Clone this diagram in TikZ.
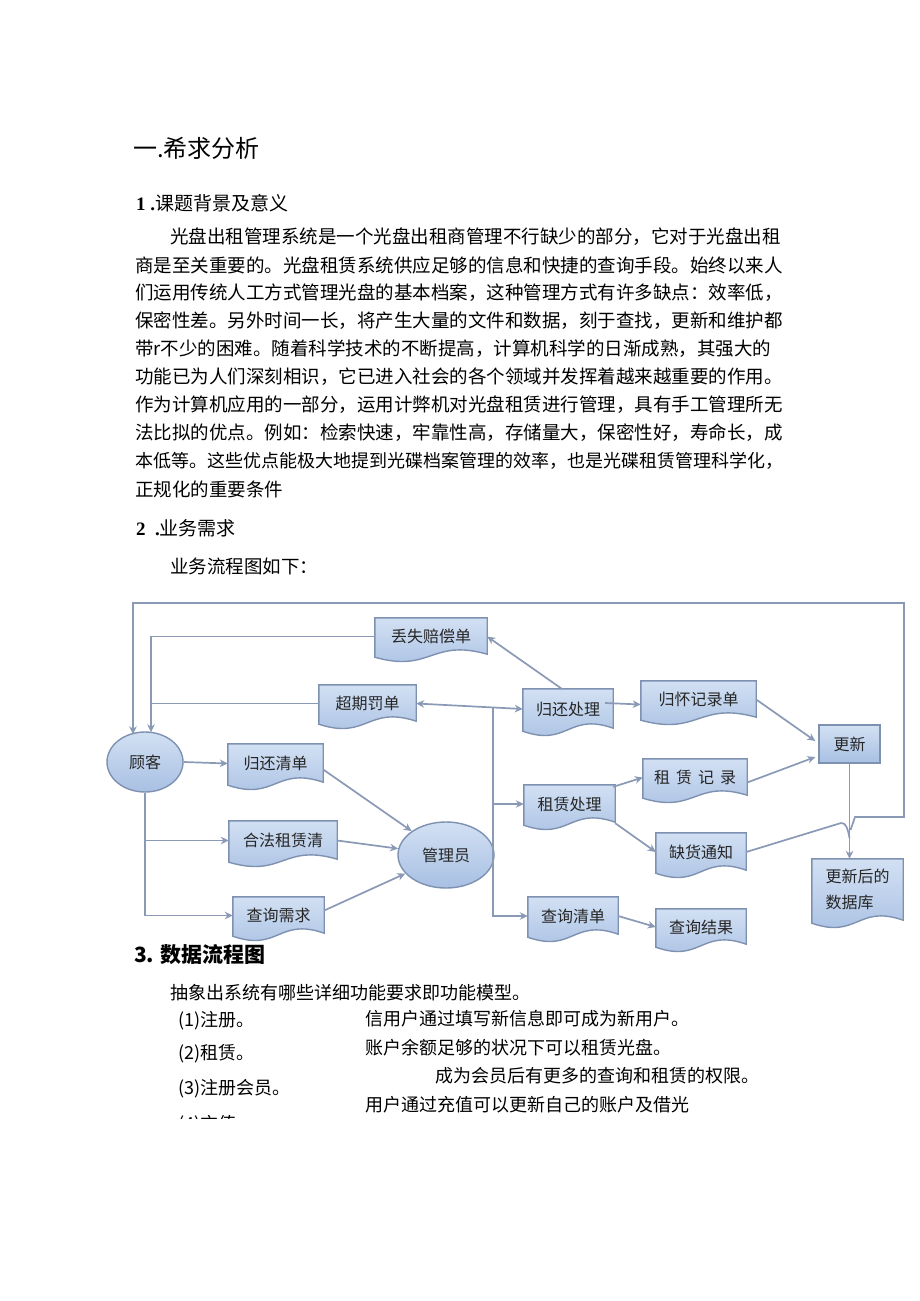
\documentclass[tikz,border=0pt]{standalone}
\usepackage{fontspec}
\setmainfont{Noto Sans CJK SC}
\newfontfamily\numfont{Liberation Serif}
\usetikzlibrary{shapes.geometric,arrows.meta,calc}
\pgfdeclarelayer{bg}
\pgfsetlayers{bg,main}
\definecolor{boxtop}{HTML}{D2E0F3}
\definecolor{boxbot}{HTML}{A8C0E3}
\definecolor{boxline}{HTML}{7F91B1}
\definecolor{conncol}{HTML}{8A99B6}
\definecolor{boxtext}{HTML}{262626}
\tikzset{
  doctext/.style={inner sep=0pt, font=\fontsize{16}{19}\selectfont, text=boxtext},
  docshape/.style={draw=boxline, line width=1.4pt, top color=boxtop, bottom color=boxbot},
  rectbox/.style={draw=boxline, line width=1.4pt, top color=boxtop, bottom color=boxbot,
    inner sep=0pt, font=\fontsize{16}{19}\selectfont, text=boxtext},
  ellbox/.style={ellipse, draw=boxline, line width=1.4pt, top color=boxtop, bottom color=boxbot,
    inner sep=0pt, font=\fontsize{16}{19}\selectfont, text=boxtext},
  conn/.style={draw=conncol, line width=1.7pt, -{Stealth[length=8pt,width=7.5pt,inset=2.5pt]}},
  conntwo/.style={draw=conncol, line width=1.7pt, {Stealth[length=8pt,width=7.5pt,inset=2.5pt]}-{Stealth[length=8pt,width=7.5pt,inset=2.5pt]}},
  plainline/.style={draw=conncol, line width=1.7pt},
  txt/.style={anchor=west, inner sep=0pt, font=\fontsize{18}{18}\selectfont},
  bodyline/.style={anchor=west, inner sep=0pt, font=\fontsize{18.5}{18.5}\selectfont},
}
\newcommand{\docnode}[6]{%
  \node[doctext, minimum width={(#4-#2)*1pt}, minimum height={(#5-#3)*1pt}] (#1) at ({(#2+#4)/2},{(#3+#5)/2}) {#6};
  \begin{pgfonlayer}{bg}
    \path[docshape] (#1.north west) -- (#1.north east) -- ($(#1.south east)+(0,-1)$)
      .. controls ($(#1.south)+(0,-17)$) and ($(#1.south)+(0,18)$) .. ($(#1.south west)+(0,2)$) -- cycle;
  \end{pgfonlayer}
}
\begin{document}
\begin{tikzpicture}[x=1pt,y=-1pt]
\begin{pgfonlayer}{bg}
  \fill[white] (0,0) rectangle (920,1301);
\end{pgfonlayer}
\useasboundingbox (0,0) rectangle (920,1301);

% ---------- text ----------
\node[txt, font=\fontsize{24}{24}\selectfont] (h1) at (133,148) {一.希求分析};
\node[txt, font=\fontsize{19}{19}\selectfont] (h11) at (136,203) {{\numfont\bfseries 1 .}课题背景及意义};

\node[bodyline] (p1) at (170,237) {光盘出租管理系统是一个光盘出租商管理不行缺少的部分，它对于光盘出租};
\node[bodyline] (p2) at (135,265) {商是至关重要的。光盘租赁系统供应足够的信息和快捷的查询手段。始终以来人};
\node[bodyline] (p3) at (135,293) {们运用传统人工方式管理光盘的基本档案，这种管理方式有许多缺点：效率低，};
\node[bodyline] (p4) at (135,321) {保密性差。另外时间一长，将产生大量的文件和数据，刻于查找，更新和维护都};
\node[bodyline] (p5) at (135,349) {带r不少的困难。随着科学技术的不断提高，计算机科学的日渐成熟，其强大的};
\node[bodyline] (p6) at (135,377) {功能已为人们深刻相识，它已进入社会的各个领域并发挥着越来越重要的作用。};
\node[bodyline] (p7) at (135,405) {作为计算机应用的一部分，运用计弊机对光盘租赁进行管理，具有手工管理所无};
\node[bodyline] (p8) at (135,433) {法比拟的优点。例如：检索快速，牢靠性高，存储量大，保密性好，寿命长，成};
\node[bodyline, font=\fontsize{18}{18}\selectfont] (p9) at (135,461) {本低等。这些优点能极大地提到光碟档案管理的效率，也是光碟租赁管理科学化，};
\node[bodyline] (p10) at (135,489) {正规化的重要条件};

\node[txt, font=\fontsize{19}{19}\selectfont] (h12) at (136,528) {{\numfont\bfseries 2 \ .}业务需求};
\node[bodyline] (p11) at (170,566) {业务流程图如下：};

\node[txt, font=\fontsize{21}{21}\selectfont\bfseries] (h3) at (134,955) {3. 数据流程图};
\node[txt] (q0) at (170,993) {抽象出系统有哪些详细功能要求即功能模型。};
\node[txt] (q1) at (178,1021) {(1)注册。};
\node[txt] (q1b) at (365,1019) {信用户通过填写新信息即可成为新用户。};
\node[txt] (q2) at (178,1054) {(2)租赁。};
\node[txt] (q2b) at (365,1048) {账户余额足够的状况下可以租赁光盘。};
\node[txt] (q3) at (178,1089) {(3)注册会员。};
\node[txt] (q3b) at (435,1076) {成为会员后有更多的查询和租赁的权限。};
\node[txt] (q4b) at (365,1105) {用户通过充值可以更新自己的账户及借光};
\begin{scope}
  \clip (0,0) rectangle (920,1118);
  \node[txt] (q4) at (178,1125) {(4)充值};
\end{scope}

% ---------- diagram nodes ----------
\node[ellbox, minimum width=76pt, minimum height=60pt] (customer) at (145,762) {顾客};
\node[ellbox, minimum width=96pt, minimum height=66pt] (admin) at (446,855) {管理员};

\docnode{lost}{375}{618}{487}{655}{丢失赔偿单}
\docnode{overdue}{319}{685}{416}{722}{超期罚单}
\docnode{retlist}{228}{744}{323}{783}{归还清单}
\docnode{legal}{229}{821}{337}{860}{合法租赁清}
\docnode{query}{233}{897}{324}{934}{查询需求}
\docnode{retproc}{523}{689}{613}{729}{归还处理}
\docnode{care}{641}{681}{756}{718}{归怀记录单}
\docnode{rentrec}{643}{759}{747}{796}{租\hspace{6pt}赁\hspace{6pt}记\hspace{6pt}录}
\docnode{rentproc}{524}{785}{615}{823}{租赁处理}
\docnode{short}{656}{833}{746}{871}{缺货通知}
\docnode{qlist}{528}{897}{618}{935}{查询清单}
\docnode{qres}{656}{909}{746}{945}{查询结果}
\docnode{db}{812}{859}{903}{921}{{\def\arraystretch{1.37}\begin{tabular}{@{}l@{}}更新后的\\数据库\end{tabular}}}
\node[rectbox, minimum width=61pt, minimum height=38pt] (update) at (849.5,744) {更新};

% ---------- coordinates ----------
\coordinate (ctop1) at ($(customer.north)+(-12,3)$);
\coordinate (ctop2) at ($(customer.north)+(6,1)$);
\coordinate (y838) at (0,838);
\coordinate (j1) at (update.south |- y838);
\coordinate (j1b) at ($(j1)+(1,-8)$);
\coordinate (loopA) at (855,817);
\coordinate (loopB) at (904,817);
\coordinate (loopC) at (904,603);
\coordinate (loopD) at (133,603);
\coordinate (trk) at (493,707);
\coordinate (shortbend) at (841,823);

% ---------- connectors ----------
\draw[conn] (j1b) -- (loopA) -- (loopB) -- (loopC) -- (loopD) -- (ctop1);
\draw[conn] (lost.west) -| (ctop2);
\draw[plainline] (overdue.west) -- (overdue.west -| ctop2);
\draw[conn] ($(retproc.north west)+(39,0)$) -- (lost.east);
\draw[conntwo] (overdue.east) -- (retproc.west);
\draw[conn] (trk) |- (qlist.west);
\draw[conn] (trk |- rentproc.west) -- (rentproc.west);
\draw[conn] ($(retproc.east)+(-8,-6)$) -- ($(care.west)+(0,5)$);
\draw[conn] (care.east) -- ($(update.west)+(-3,-3)$);
\draw[conn] ($(rentrec.east)+(0,5)$) -- ($(update.west)+(-3,13)$);
\draw[conn] ($(rentproc.north east)+(-2,2)$) -- (rentrec.west);
\draw[conn] (rentproc.south east) -- (short.west);
\draw[plainline] (short.east) -- (shortbend) .. controls (846,822) and (848,830) .. (j1);
\draw[conn] (update.south) -- (update.south |- db.north);
\draw[conn] (customer.east) -- (retlist.west);
\draw[conn] (customer.south) |- (query.west);
\draw[conn] (customer.south |- legal.west) -- (legal.west);
\draw[conn] ($(retlist.east)+(0,6)$) -- (admin);
\draw[conn] (legal.east) -- (admin);
\draw[conn] ($(query.east)+(0,-5)$) -- (admin);
\draw[conn] (qlist.east) -- (qres.west);
\end{tikzpicture}
\end{document}
